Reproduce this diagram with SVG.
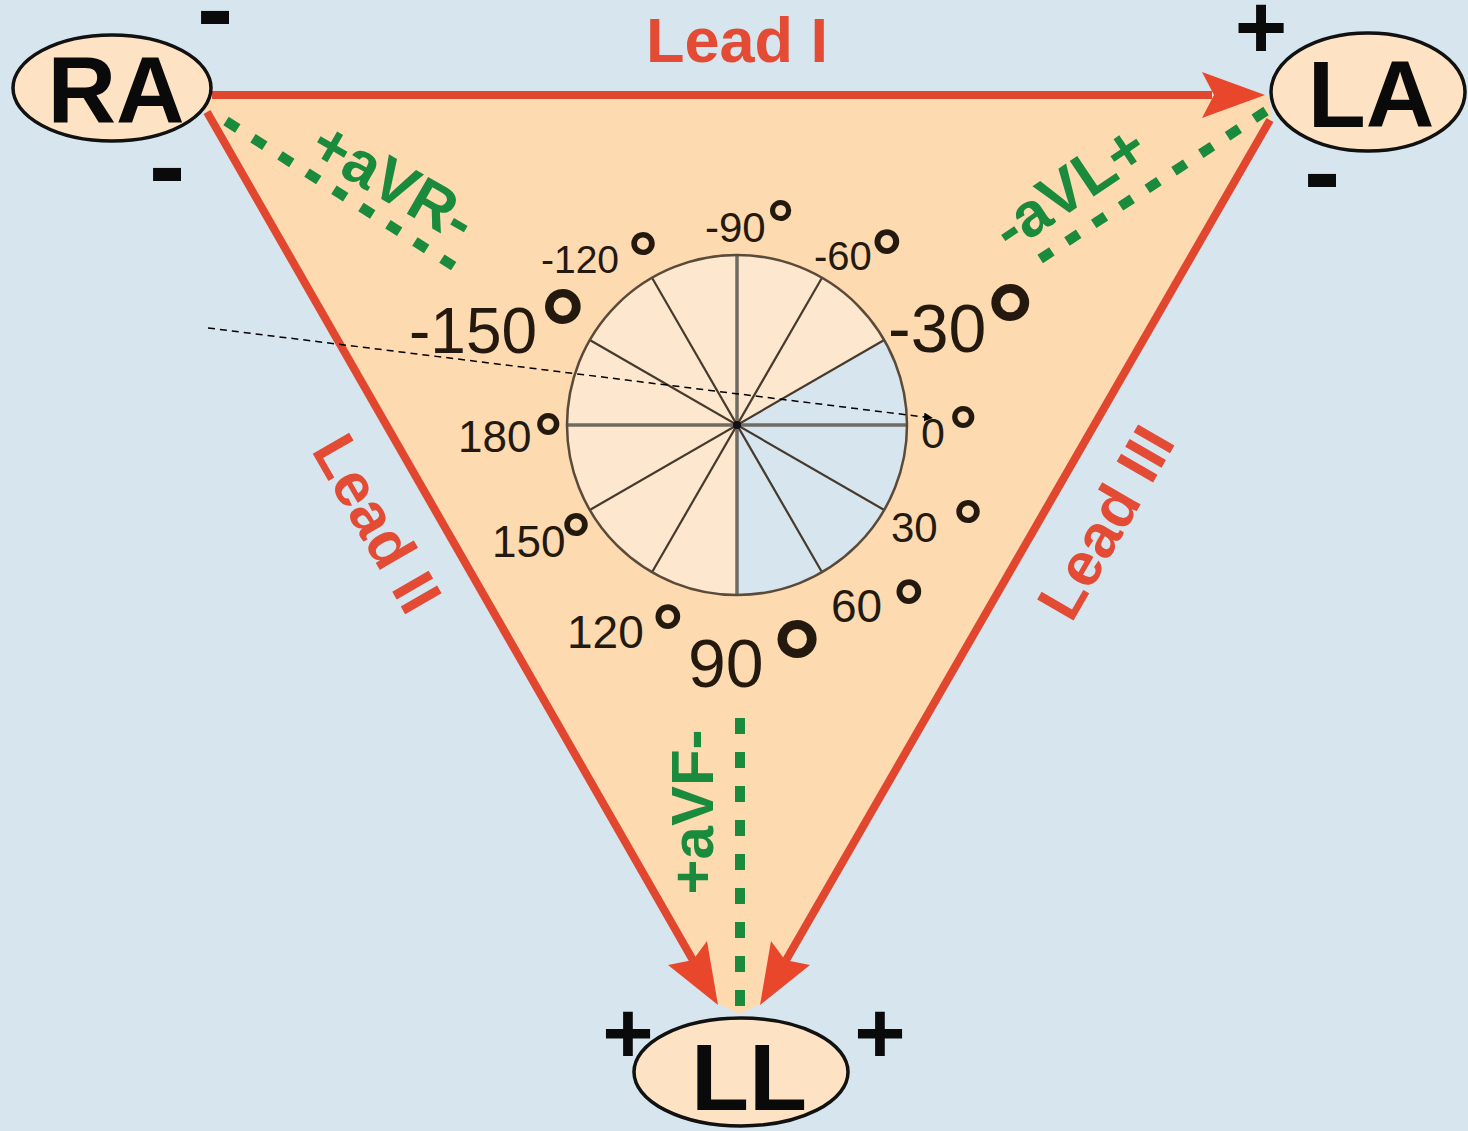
<svg xmlns="http://www.w3.org/2000/svg" width="1468" height="1131" viewBox="0 0 1468 1131">
<defs>
<style>
.lead{fill:none;stroke:#e1472f;stroke-width:8}
.head{fill:#e8472c}
.dot{fill:none;stroke:#1a8a3c;stroke-width:10}
.lbl{font-family:"Liberation Sans",Arial,sans-serif;font-weight:bold;fill:#e34b34}
.green{font-family:"Liberation Sans",Arial,sans-serif;font-weight:bold;fill:#1a8a3c}
.node{fill:#fde3c4;stroke:#111;stroke-width:3.5}
.ntxt{font-family:"Liberation Sans",Arial,sans-serif;font-weight:bold;font-size:95px;fill:#0a0a0a;text-anchor:middle}
.sign{font-family:"Liberation Sans",Arial,sans-serif;font-weight:bold;fill:#0a0a0a;text-anchor:middle}
.deg{font-family:"Liberation Sans",Arial,sans-serif;fill:#24190f}
.ring{font-weight:bold}
.spoke{stroke:#46392d;stroke-width:2.2}
.axis{stroke:#6f6a62;stroke-width:3.5}
</style>
<marker id="blk" viewBox="0 0 10 10" refX="9" refY="5" markerWidth="9" markerHeight="9" markerUnits="userSpaceOnUse" orient="auto"><path d="M0,0 L10,5 L0,10 Z" fill="#000"/></marker>
</defs>
<rect width="1468" height="1131" fill="#d6e5ee"/>
<polygon points="207,95 1268,95 1272,116 762,1003 740,1014 716,1003 205,110" fill="#fddab0"/>
<g id="wheel">
<circle cx="737" cy="425" r="170" fill="#fde8cf"/>
<path d="M737,425 L884.2,340 A170,170 0 0 1 737,595 Z" fill="#d6e5ee"/>
<line class="axis" x1="567" y1="425" x2="907" y2="425"/>
<line class="axis" x1="737" y1="255" x2="737" y2="595"/>
<line class="spoke" x1="589.8" y1="340" x2="884.2" y2="510"/>
<line class="spoke" x1="652" y1="277.8" x2="822" y2="572.2"/>
<line class="spoke" x1="822" y1="277.8" x2="652" y2="572.2"/>
<line class="spoke" x1="884.2" y1="340" x2="589.8" y2="510"/>
<circle cx="737" cy="425" r="170" fill="none" stroke="#5a4a3a" stroke-width="2.5"/>
<circle cx="737" cy="425" r="4" fill="#111"/>
</g>
<g id="degrees" class="deg">
<text x="705" y="242" font-size="42">-90<tspan class="ring" x="767" y="248" font-size="68">°</tspan></text>
<text x="541" y="273" font-size="39">-120<tspan class="ring" x="628" y="284" font-size="75">°</tspan></text>
<text x="814" y="270" font-size="40">-60<tspan class="ring" x="871" y="285" font-size="79">°</tspan></text>
<text x="409" y="353" font-size="64">-150<tspan class="ring" x="540" y="368" font-size="114">°</tspan></text>
<text x="888" y="352" font-size="68">-30<tspan class="ring" x="986" y="368" font-size="121">°</tspan></text>
<text x="458" y="452" font-size="44">180<tspan class="ring" x="534" y="462" font-size="71">°</tspan></text>
<text x="921" y="448" font-size="43">0<tspan class="ring" x="949" y="455" font-size="71">°</tspan></text>
<text x="492" y="557" font-size="44">150<tspan class="ring" x="561" y="565" font-size="75">°</tspan></text>
<text x="891" y="542" font-size="42">30 <tspan class="ring" x="953" y="552" font-size="75">°</tspan></text>
<text x="567" y="648" font-size="46">120<tspan class="ring" x="652" y="660" font-size="79">°</tspan></text>
<text x="831" y="622" font-size="46">60 <tspan class="ring" x="893" y="635" font-size="79">°</tspan></text>
<text x="688" y="687" font-size="68">90<tspan class="ring" x="772" y="706" font-size="125">°</tspan></text>
</g>
<g id="connectors">
<line class="lead" x1="212" y1="95" x2="1212" y2="95"/>
<polygon class="head" points="1265,95 1202,72 1214,95 1202,118"/>
<line class="lead" x1="207" y1="112" x2="694" y2="962"/>
<polygon class="head" points="718,1005 668,965 693,960 707,941"/>
<line class="lead" x1="1270" y1="120" x2="785" y2="962"/>
<polygon class="head" points="760,1005 810,965 785,960 771,941"/>
<line class="dot" x1="226" y1="121" x2="466" y2="274" stroke-dasharray="14 18"/>
<line class="dot" x1="1266" y1="111" x2="1028" y2="267" stroke-dasharray="14 18"/>
<line class="dot" x1="740" y1="718" x2="740" y2="1008" stroke-dasharray="16 18" stroke-width="11"/>
<line x1="208" y1="328" x2="932" y2="418" stroke="#000" stroke-width="1.5" stroke-dasharray="7 5" marker-end="url(#blk)"/>
</g>
<g id="labels">
<text class="lbl" x="737" y="62" font-size="63" text-anchor="middle">Lead I</text>
<text class="lbl" font-size="61" text-anchor="middle" transform="translate(359,534) rotate(60)">Lead II</text>
<text class="lbl" font-size="61" text-anchor="middle" transform="translate(1124,533) rotate(-60)">Lead III</text>
<text class="green" font-size="62" text-anchor="middle" transform="translate(383,200) rotate(30)">+aVR-</text>
<text class="green" font-size="62" text-anchor="middle" transform="translate(1081,205) rotate(-34)">-aVL+</text>
<text class="green" font-size="60" text-anchor="middle" transform="translate(713,812) rotate(-90)">+aVF-</text>
</g>
<g id="RA">
<ellipse class="node" cx="112" cy="88" rx="99" ry="53"/>
<text class="ntxt" x="116" y="123">RA</text>
<text class="sign" x="215" y="46" font-size="110">-</text>
<text class="sign" x="167" y="203" font-size="110">-</text>
</g>
<g id="LA">
<ellipse class="node" cx="1368" cy="92" rx="97" ry="59"/>
<text class="ntxt" x="1371" y="127">LA</text>
<text class="sign" x="1261" y="58" font-size="90">+</text>
<text class="sign" x="1322" y="209" font-size="110">-</text>
</g>
<g id="LL">
<ellipse class="node" cx="741" cy="1072" rx="107" ry="54"/>
<text class="ntxt" x="749" y="1110">LL</text>
<text class="sign" x="628" y="1063" font-size="88">+</text>
<text class="sign" x="880" y="1063" font-size="88">+</text>
</g>
</svg>
